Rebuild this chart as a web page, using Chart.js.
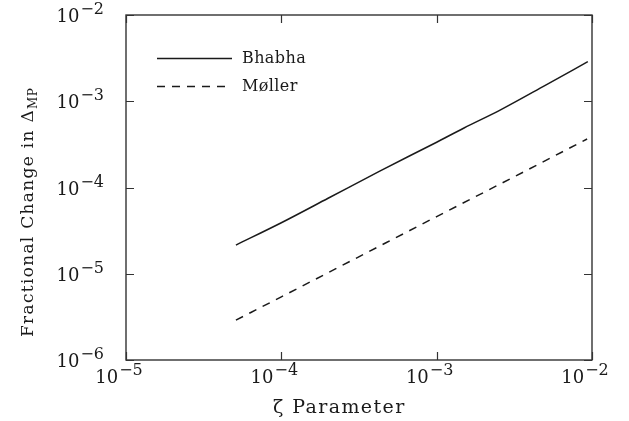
<!DOCTYPE html>
<html>
<head>
<meta charset="utf-8">
<script src="https://cdn.jsdelivr.net/npm/chart.js@4/dist/chart.umd.min.js"></script>
<style>
  html, body { margin: 0; padding: 0; background: #fff; }
  canvas { display: block; }
</style>
</head>
<body>
<canvas id="c" width="629" height="421"></canvas>
<script>
// ---- data ----
const seriesNames = ['Bhabha', 'Møller'];
const bhabhaX = [5.1e-5, 1e-4, 2e-4, 4.3e-4, 1e-3, 1.5e-3, 2.56e-3, 5e-3, 9.4e-3];
const bhabhaY = [2.15e-5, 3.9e-5, 7.5e-5, 1.55e-4, 3.35e-4, 4.9e-4, 7.9e-4, 1.53e-3, 2.88e-3];
const mollerX = [5.1e-5, 1e-4, 3e-4, 1e-3, 3e-3, 9.3e-3];
const mollerY = [2.9e-6, 5.4e-6, 1.5e-5, 4.6e-5, 1.27e-4, 3.65e-4];

const xTickValues = [1e-5, 1e-4, 1e-3, 1e-2];
const xTickExponents = ['−5', '−4', '−3', '−2'];
const yTickValues = [1e-6, 1e-5, 1e-4, 1e-3, 1e-2];
const yTickExponents = ['−6', '−5', '−4', '−3', '−2'];
const tickBase = '10';
const xTitle = 'ζ Parameter';
const yTitleMain = 'Fractional Change in Δ';
const yTitleSub = 'MP';

const FONT = '"DejaVu Serif", serif';
const INK = '#1a1a1a';

function pts(xs, ys) { return xs.map((v, i) => ({ x: v, y: ys[i] })); }

const decor = {
  id: 'decor',
  afterDraw(chart) {
    const ctx = chart.ctx;
    const { left, right, top, bottom } = chart.chartArea;
    const xs = chart.scales.x, ys = chart.scales.y;
    ctx.save();
    // frame
    ctx.strokeStyle = '#333';
    ctx.lineWidth = 1.4;
    ctx.setLineDash([]);
    ctx.strokeRect(left, top, right - left, bottom - top);
    // inward ticks on all four sides
    const TL = 8;
    ctx.lineWidth = 1.2;
    ctx.beginPath();
    xTickValues.forEach(v => {
      const p = Math.round(xs.getPixelForValue(v)) + 0.5;
      ctx.moveTo(p, bottom); ctx.lineTo(p, bottom - TL);
      ctx.moveTo(p, top); ctx.lineTo(p, top + TL);
    });
    yTickValues.forEach(v => {
      const p = Math.round(ys.getPixelForValue(v)) + 0.5;
      ctx.moveTo(left, p); ctx.lineTo(left + TL, p);
      ctx.moveTo(right, p); ctx.lineTo(right - TL, p);
    });
    ctx.stroke();

    // tick labels: 10 with raised exponent
    ctx.fillStyle = INK;
    ctx.textBaseline = 'alphabetic';
    ctx.textAlign = 'left';
    const baseFont = '18px ' + FONT, expFont = '16px ' + FONT;
    function measure(exp) {
      ctx.font = baseFont; const wb = ctx.measureText(tickBase).width;
      ctx.font = expFont; const we = ctx.measureText(exp).width;
      return { wb, we, w: wb + we + 1 };
    }
    function drawPow(exp, x0, baseline) {
      const m = measure(exp);
      ctx.font = baseFont; ctx.fillText(tickBase, x0, baseline);
      ctx.font = expFont; ctx.fillText(exp, x0 + m.wb + 1, baseline - 8);
    }
    xTickValues.forEach((v, i) => {
      const p = xs.getPixelForValue(v);
      const m = measure(xTickExponents[i]);
      drawPow(xTickExponents[i], p - m.w / 2 - 7, bottom + 23);
    });
    yTickValues.forEach((v, i) => {
      const p = ys.getPixelForValue(v);
      const m = measure(yTickExponents[i]);
      drawPow(yTickExponents[i], left - 22 - m.w, p + 7);
    });

    // x title
    ctx.font = '19px ' + FONT;
    ctx.letterSpacing = '1.4px';
    ctx.textAlign = 'left';
    ctx.fillText(xTitle, 273, 413);

    // y title (rotated)
    ctx.save();
    ctx.translate(33, 337);
    ctx.rotate(-Math.PI / 2);
    ctx.textAlign = 'left';
    ctx.font = '17px ' + FONT;
    ctx.letterSpacing = '1.3px';
    ctx.fillText(yTitleMain, 0, 0);
    const wm = ctx.measureText(yTitleMain).width;
    ctx.font = '12px ' + FONT;
    ctx.letterSpacing = '0.5px';
    ctx.fillText(yTitleSub, wm, 4);
    ctx.restore();

    // legend
    const ds = chart.data.datasets;
    const legY = [58, 86];
    ds.forEach((d, i) => {
      ctx.strokeStyle = d.borderColor;
      ctx.lineWidth = d.borderWidth;
      ctx.setLineDash(d.borderDash || []);
      ctx.beginPath();
      ctx.moveTo(157, legY[i] + 0.5);
      ctx.lineTo(232, legY[i] + 0.5);
      ctx.stroke();
      ctx.setLineDash([]);
      ctx.fillStyle = INK;
      ctx.font = '16px ' + FONT;
      ctx.letterSpacing = '0.4px';
      ctx.textAlign = 'left';
      ctx.textBaseline = 'middle';
      ctx.fillText(d.label, 242, legY[i] + 1);
    });
    ctx.letterSpacing = '0px';
    ctx.restore();
  }
};

new Chart(document.getElementById('c'), {
  type: 'line',
  data: {
    datasets: [
      { label: seriesNames[0], data: pts(bhabhaX, bhabhaY), borderColor: INK, borderWidth: 1.5,
        pointRadius: 0, fill: false, cubicInterpolationMode: 'monotone' },
      { label: seriesNames[1], data: pts(mollerX, mollerY), borderColor: INK, borderWidth: 1.5,
        borderDash: [8, 7], pointRadius: 0, fill: false, cubicInterpolationMode: 'monotone' }
    ]
  },
  options: {
    responsive: false,
    animation: false,
    layout: { padding: { left: 126, top: 15, right: 37, bottom: 61 } },
    plugins: { legend: { display: false }, tooltip: { enabled: false } },
    scales: {
      x: { type: 'logarithmic', min: 1e-5, max: 1e-2, display: false },
      y: { type: 'logarithmic', min: 1e-6, max: 1e-2, display: false }
    }
  },
  plugins: [decor]
});
</script>
</body>
</html>
